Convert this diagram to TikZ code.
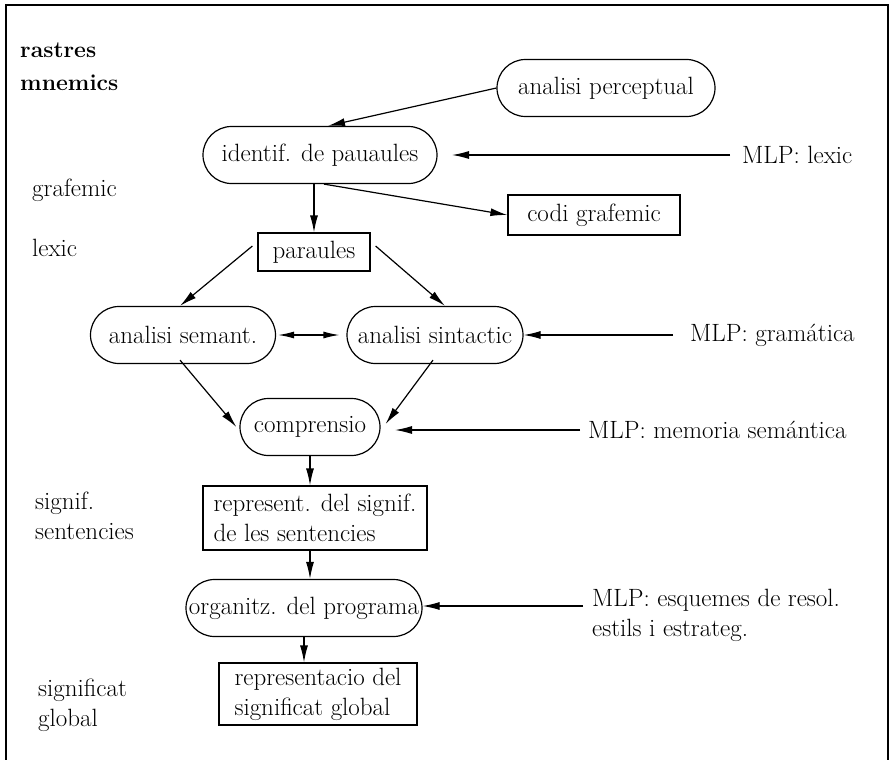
\documentclass[tikz,border=0pt]{standalone}
\usetikzlibrary{shapes.misc,arrows.meta}
\begin{document}
\begin{tikzpicture}[x=1pt,y=-1pt,
  every node/.style={font=\fontsize{25}{30}\selectfont, inner sep=0pt},
  pill/.style={draw, rounded rectangle, line width=1.2pt, minimum height=57pt},
  boxn/.style={draw, rectangle, line width=1.2pt},
  lbl/.style={anchor=west, align=left},
  arr/.style={line width=1.2pt, -{Latex[length=17pt,width=8pt]}},
  darr/.style={line width=1.2pt, {Latex[length=16pt,width=7pt]}-{Latex[length=16pt,width=7pt]}}]
\useasboundingbox (0,0) rectangle (894,760);
\draw[line width=1.5pt] (6,760) -- (6,5) -- (888,5) -- (888,760);

% side labels
\node[lbl, font=\fontsize{23}{28}\selectfont\bfseries] (l1) at (20,50) {rastres};
\node[lbl, font=\fontsize{23}{28}\selectfont\bfseries] (l2) at (20,83) {mnemics};
\node[lbl] (l3) at (32,190) {grafemic};
\node[lbl] (l4) at (32,248) {lexic};
\node[lbl] (l5) at (35,516) {signif.\\sentencies};
\node[lbl] (l6) at (38,705) {significat\\global};

% main nodes
\node[pill, minimum width=218pt] (perc) at (606,88) {analisi perceptual};
\node[pill, minimum width=234pt] (ident) at (320,155) {identif. de pauaules};
\node[boxn, minimum width=172pt, minimum height=40pt] (codi) at (594,215) {codi grafemic};
\node[boxn, minimum width=112pt, minimum height=38pt] (par) at (314,252) {paraules};
\node[pill, minimum width=185pt] (sem) at (183,335) {analisi semant.};
\node[pill, minimum width=176pt] (sint) at (435,335) {analisi sintactic};
\node[pill, minimum width=140pt] (comp) at (310,427) {comprensio};
\node[boxn, minimum width=224pt, minimum height=64pt, align=left] (rep) at (315,518) {represent. del signif.\\de les sentencies};
\node[pill, minimum width=236pt] (org) at (304,608) {organitz. del programa};
\node[boxn, minimum width=198pt, minimum height=62pt, align=left] (glob) at (318,694) {representacio del\\significat global};

% MLP labels
\node[lbl] (mlex) at (742,155) {MLP: lexic};
\node[lbl] (mgram) at (690,335) {MLP: gramática};
\node[lbl] (mmem) at (588,430) {MLP: memoria semántica};
\node[lbl, anchor=north west] (mesq) at (592,589) {MLP: esquemes de resol.\\estils i estrateg.};

% connector ends
\coordinate (mlexs) at (730,155);
\coordinate (mgrams) at (673,335);
\coordinate (mmems) at (580,430);
\coordinate (mesqs) at (583,606);

% connectors
\draw[arr] (perc.west) -- ([xshift=8pt]ident.north);
\draw[arr] (mlexs) -- (ident.east -| 452,0);
\draw[arr] (ident.south -| par.north) -- (par.north);
\draw[arr] ([xshift=4pt]ident.south) -- (codi.west);
\draw[arr] ([shift={(-5pt,6pt)}]par.west) -- ([xshift=-3pt]sem.north);
\draw[arr] ([shift={(5pt,6pt)}]par.east) -- ([xshift=10pt]sint.north);
\draw[darr] ([xshift=2pt]sem.east) -- ([xshift=-7pt]sint.west);
\draw[arr] (mgrams) -- (sint.east);
\draw[arr] ([shift={(-3pt,4pt)}]sem.south) -- ([xshift=-3pt]comp.west);
\draw[arr] ([shift={(-2pt,4pt)}]sint.south) -- ([xshift=5pt,yshift=3pt]comp.east);
\draw[arr] (mmems) -- (mmems -| 395,0);
\draw[arr] (comp.south) -- (rep.north -| comp.south);
\draw[arr] (rep.south -| comp.south) -- (org.north -| comp.south);
\draw[arr] (mesqs) -- (mesqs -| org.east);
\draw[arr] (org.south) -- (glob.north -| org.south);
\end{tikzpicture}
\end{document}
